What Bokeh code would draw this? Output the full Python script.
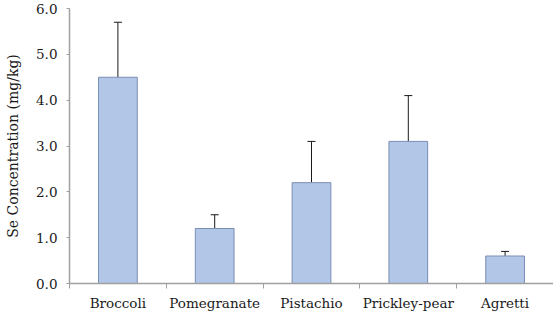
from bokeh.plotting import figure
from bokeh.models import FixedTicker, Range1d, Whisker, TeeHead, ColumnDataSource, CustomJSTickFormatter
from bokeh.embed import file_html
from bokeh.resources import INLINE

categories = ["Broccoli", "Pomegranate", "Pistachio", "Prickley-pear", "Agretti"]
values = [4.5, 1.2, 2.2, 3.1, 0.6]
errors = [1.2, 0.3, 0.9, 1.0, 0.1]
y_ticks = [0.0, 1.0, 2.0, 3.0, 4.0, 5.0, 6.0]

xs = [i + 0.5 for i in range(len(categories))]
upper = [v + e for v, e in zip(values, errors)]
src = ColumnDataSource(dict(x=xs, top=values, upper=upper))

FONT = "DejaVu Serif"

p = figure(width=553, height=313, output_backend="svg", toolbar_location=None,
           x_range=Range1d(0, len(categories)), y_range=Range1d(0, 6.0),
           min_border_left=69, min_border_right=0, min_border_top=8, min_border_bottom=30)
p.outline_line_color = None
p.grid.visible = False
p.background_fill_color = "white"
p.border_fill_color = "white"

p.vbar(x="x", top="top", width=0.4, bottom=0, source=src,
       fill_color="#B2C6E8", line_color="#7A8DB3", line_width=1)

w = Whisker(base="x", lower="top", upper="upper", source=src,
            line_color="#1a1a1a", line_width=1,
            upper_head=TeeHead(size=8, line_color="#1a1a1a", line_width=1), lower_head=None)
p.add_layout(w)

# x axis
p.xaxis.ticker = FixedTicker(ticks=xs, minor_ticks=list(range(len(categories) + 1)))
p.xaxis.major_label_overrides = {x: c for x, c in zip(xs, categories)}
p.xaxis.major_tick_out = 0
p.xaxis.major_tick_in = 0
p.xaxis.minor_tick_out = 5
p.xaxis.minor_tick_in = 0
p.xaxis.minor_tick_line_color = "#A0A0A0"
p.xaxis.axis_line_color = "#A0A0A0"
p.xaxis.axis_line_width = 1.5
p.xaxis.major_label_text_font = FONT
p.xaxis.major_label_text_font_size = "13.5px"
p.xaxis.major_label_text_color = "#1a1a1a"
p.xaxis.major_label_standoff = 6

# y axis
p.yaxis.ticker = FixedTicker(ticks=y_ticks, minor_ticks=[])
p.yaxis.formatter = CustomJSTickFormatter(code="return tick.toFixed(1);")
p.yaxis.major_tick_out = 3
p.yaxis.major_tick_in = 0
p.yaxis.major_tick_line_color = "#A0A0A0"
p.yaxis.axis_line_color = "#A0A0A0"
p.yaxis.axis_line_width = 1.5
p.yaxis.major_label_text_font = FONT
p.yaxis.major_label_text_font_size = "13.5px"
p.yaxis.major_label_text_color = "#1a1a1a"
p.yaxis.major_label_standoff = 9
p.yaxis.axis_label = "Se Concentration (mg/kg)"
p.yaxis.axis_label_text_font = FONT
p.yaxis.axis_label_text_font_size = "14px"
p.yaxis.axis_label_text_font_style = "normal"
p.yaxis.axis_label_text_color = "#1a1a1a"
p.yaxis.axis_label_standoff = 12

open("out.html", "w").write(file_html(p, INLINE))
